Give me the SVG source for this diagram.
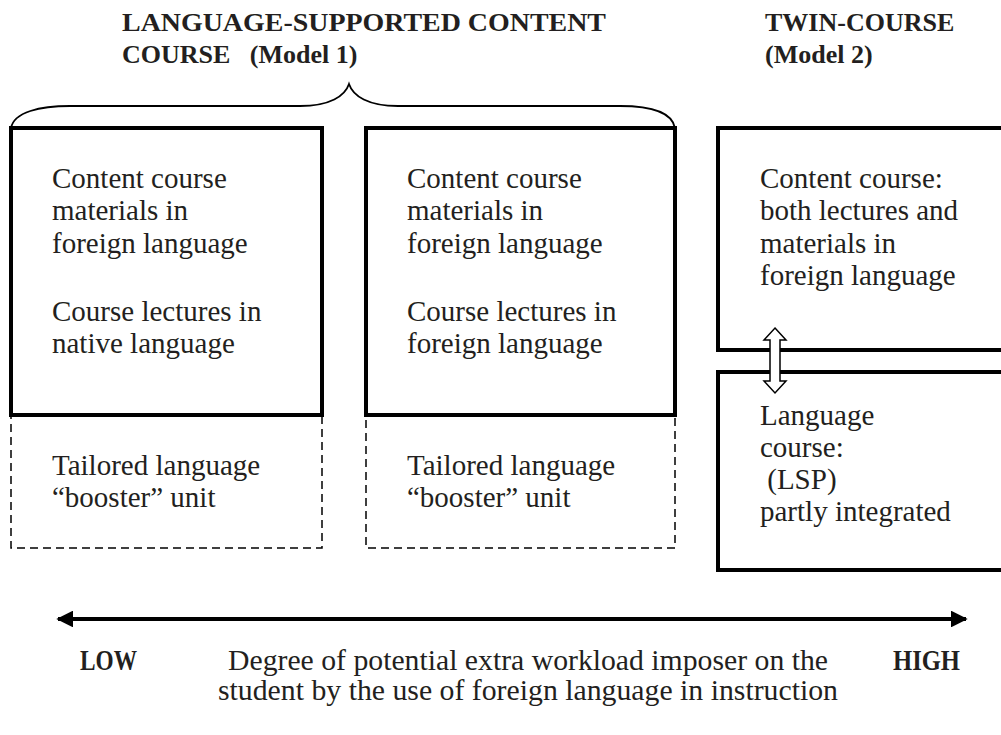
<svg xmlns="http://www.w3.org/2000/svg" width="1001" height="735" viewBox="0 0 1001 735">
  <style>
    .t { font-family: "Liberation Serif", "Times New Roman", serif; font-size: 29px; fill: #231f20; }
    .h { font-family: "Liberation Serif", "Times New Roman", serif; font-size: 26px; font-weight: bold; fill: #231f20; }
    .s { font-family: "Liberation Serif", "Times New Roman", serif; font-size: 29px; fill: #231f20; }
    .sb { font-family: "Liberation Serif", "Times New Roman", serif; font-size: 29px; font-weight: bold; fill: #231f20; }
    .box { fill: none; stroke: #000; stroke-width: 4; }
    .dash { fill: none; stroke: #000; stroke-width: 1.5; stroke-dasharray: 8 5; }
    .axis { stroke: #000; stroke-width: 4; fill: none; }
  </style>
  <defs>
    <marker id="head" viewBox="0 0 10 10" refX="9" refY="5" markerWidth="4.2" markerHeight="4.2" orient="auto-start-reverse">
      <path d="M0,0 L10,5 L0,10 Z" fill="#000"/>
    </marker>
  </defs>
  <rect width="1001" height="735" fill="#fff"/>

  <!-- headings -->
  <g id="heading-model1">
    <text class="h" x="122" y="31" textLength="484" lengthAdjust="spacingAndGlyphs">LANGUAGE-SUPPORTED CONTENT</text>
    <text class="h" x="122" y="63" xml:space="preserve">COURSE   (Model 1)</text>
  </g>
  <g id="heading-model2">
    <text class="h" x="765" y="31">TWIN-COURSE</text>
    <text class="h" x="765" y="63">(Model 2)</text>
  </g>

  <!-- brace grouping the two model-1 variants -->
  <g id="brace">
    <path d="M11,128 C14,112 40,106 70,106 L300,106 C330,106 345,96 349,84 C353,96 368,106 398,106 L620,106 C650,106 672,112 675,128" fill="none" stroke="#000" stroke-width="1.8"/>
  </g>

  <!-- variant A: lectures in native language -->
  <g id="variant-native">
    <rect class="box" x="11" y="128" width="311" height="287"/>
    <text class="t" x="52" y="188">Content course</text>
    <text class="t" x="52" y="220">materials in</text>
    <text class="t" x="52" y="253">foreign language</text>
    <text class="t" x="52" y="321">Course lectures in</text>
    <text class="t" x="52" y="353">native language</text>
  </g>
  <g id="booster-a">
    <rect class="dash" x="11" y="415" width="311" height="133"/>
    <text class="t" x="52" y="475">Tailored language</text>
    <text class="t" x="52" y="507">“booster” unit</text>
  </g>

  <!-- variant B: lectures in foreign language -->
  <g id="variant-foreign">
    <rect class="box" x="366" y="128" width="309" height="287"/>
    <text class="t" x="407" y="188">Content course</text>
    <text class="t" x="407" y="220">materials in</text>
    <text class="t" x="407" y="253">foreign language</text>
    <text class="t" x="407" y="321">Course lectures in</text>
    <text class="t" x="407" y="353">foreign language</text>
  </g>
  <g id="booster-b">
    <rect class="dash" x="366" y="415" width="309" height="133"/>
    <text class="t" x="407" y="475">Tailored language</text>
    <text class="t" x="407" y="507">“booster” unit</text>
  </g>

  <!-- twin course -->
  <g id="twin-content">
    <path class="box" d="M1005,128 H718 V350 H1005"/>
    <text class="t" x="760" y="188">Content course:</text>
    <text class="t" x="760" y="220">both lectures and</text>
    <text class="t" x="760" y="253">materials in</text>
    <text class="t" x="760" y="285">foreign language</text>
  </g>
  <g id="twin-language">
    <path class="box" d="M1005,372 H718 V570 H1005"/>
    <text class="t" x="760" y="425">Language</text>
    <text class="t" x="760" y="457">course:</text>
    <text class="t" x="760" y="489" xml:space="preserve"> (LSP)</text>
    <text class="t" x="760" y="521">partly integrated</text>
  </g>

  <g id="connectors">
    <!-- link between the two twin courses -->
    <path d="M775,328 L786,340 L780,340 L780,381 L786,381 L775,393 L764,381 L770,381 L770,340 L764,340 Z" fill="#fff" stroke="#000" stroke-width="1.5" stroke-linejoin="miter"/>
    <!-- workload scale -->
    <line class="axis" x1="58" y1="619" x2="966" y2="619" marker-start="url(#head)" marker-end="url(#head)"/>
  </g>

  <g id="scale-labels">
    <text class="sb" x="80" y="670" textLength="57" lengthAdjust="spacingAndGlyphs">LOW</text>
    <text class="sb" x="893" y="670" textLength="67" lengthAdjust="spacingAndGlyphs">HIGH</text>
    <text class="s" x="528" y="670" text-anchor="middle" textLength="600" lengthAdjust="spacingAndGlyphs">Degree of potential extra workload imposer on the</text>
    <text class="s" x="528" y="700" text-anchor="middle" textLength="620" lengthAdjust="spacingAndGlyphs">student by the use of foreign language in instruction</text>
  </g>
</svg>
